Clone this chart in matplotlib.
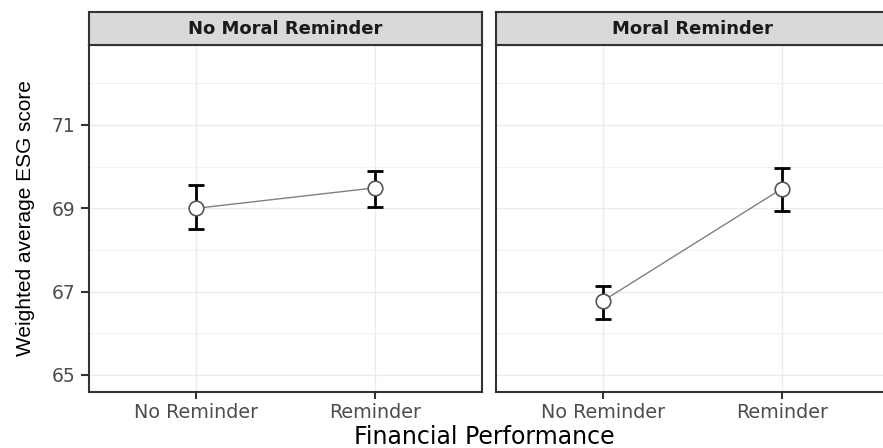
import matplotlib
matplotlib.use("Agg")
import matplotlib.pyplot as plt

plt.rcParams['font.family'] = ['DejaVu Sans']

# data
panels = ["No Moral Reminder", "Moral Reminder"]
categories = ["No Reminder", "Reminder"]
means_no_moral = [69.0, 69.49]
low_no_moral = [68.51, 69.03]
high_no_moral = [69.56, 69.90]
means_moral = [66.78, 69.47]
low_moral = [66.35, 68.94]
high_moral = [67.14, 69.97]
yticks = [65, 67, 69, 71]

fig = plt.figure(figsize=(8.83, 4.48), dpi=100)

W, H = 883, 448
def box(x0, y0, x1, y1):
    return [x0 / W, 1 - y1 / H, (x1 - x0) / W, (y1 - y0) / H]

series = [(means_no_moral, low_no_moral, high_no_moral),
          (means_moral, low_moral, high_moral)]
lefts = [89, 496]

for i, (title, (m, lo, hi)) in enumerate(zip(panels, series)):
    x0 = lefts[i]
    ax = fig.add_axes(box(x0, 45, x0 + 393, 392))
    xs = [1, 2]
    ax.set_xlim(0.4, 2.6)
    ax.set_ylim(64.59, 72.92)
    ax.set_yticks(yticks)
    ax.set_yticks([66, 68, 70, 72], minor=True)
    ax.grid(True, which="major", color="#ebebeb", lw=1.0)
    ax.grid(True, which="minor", axis="y", color="#f2f2f2", lw=0.8)
    ax.set_axisbelow(True)
    ax.tick_params(which="minor", left=False)
    ax.set_xticks(xs)
    ax.set_xticklabels(categories, fontsize=13.8, color="#4d4d4d")
    ax.tick_params(axis="x", length=5, width=1.5, color="#333333", pad=3)
    if i == 0:
        ax.set_yticklabels([str(t) for t in yticks], fontsize=13.5, color="#4d4d4d")
        ax.tick_params(axis="y", length=6, width=1.5, color="#333333", pad=4)
        ax.set_ylabel("Weighted average ESG score", fontsize=15, labelpad=12,
                      family="Liberation Sans")
    else:
        ax.tick_params(axis="y", left=False, labelleft=False)
    for s in ax.spines.values():
        s.set_color("#333333")
        s.set_linewidth(1.5)

    yerr = [[a - b for a, b in zip(m, lo)], [b - a for a, b in zip(m, hi)]]
    ax.errorbar(xs, m, yerr=yerr, fmt="none", ecolor="black", elinewidth=2,
                capsize=6, capthick=2, zorder=3)
    ax.plot(xs, m, color="#808080", lw=1.0, zorder=4)
    ax.plot(xs, m, "o", ms=10.5, mfc="white", mec="#555555", mew=1.2, zorder=5)

    # facet strip
    sax = fig.add_axes(box(x0, 12, x0 + 393, 45))
    sax.set_xticks([])
    sax.set_yticks([])
    sax.set_facecolor("#d9d9d9")
    for s in sax.spines.values():
        s.set_color("#333333")
        s.set_linewidth(1.5)
    sax.text(0.5, 0.5, title, ha="center", va="center", fontsize=13,
             fontweight="bold", color="#1a1a1a", transform=sax.transAxes)

fig.text(484 / W, 1 - 437 / H, "Financial Performance", ha="center",
         va="center", fontsize=17)

fig.savefig("out.png", dpi=100)
